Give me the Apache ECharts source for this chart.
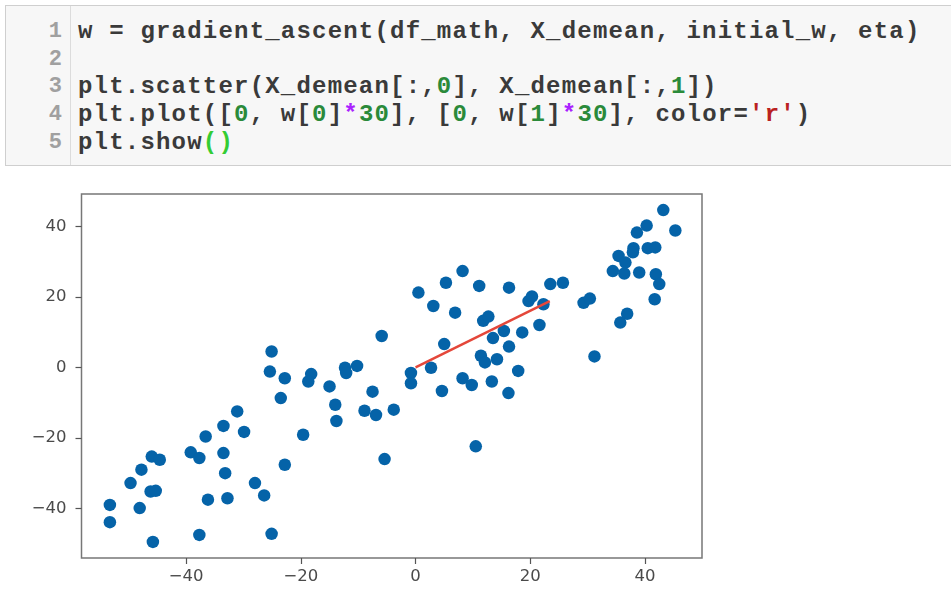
<!DOCTYPE html>
<html>
<head>
<meta charset="utf-8">
<script src="https://cdn.jsdelivr.net/npm/echarts@6/dist/echarts.min.js"></script>
<style>
  body { margin: 0; background: #fff; }
  #cell {
    position: absolute; left: 5px; top: 5px; width: 960px; height: 161px;
    background: #f7f7f7; border: 1px solid #cfcfcf; box-sizing: border-box; z-index: 2;
  }
  #gutter {
    position: absolute; left: 0; top: 0; width: 64px; height: 100%;
    border-right: 1px solid #dcdcdc;
  }
  #gutter pre, #code pre {
    margin: 0; padding-top: 12px; line-height: 27.7px;
  }
  #gutter pre { text-align: right; padding-right: 8px; font: bold 22px/27.7px "Liberation Mono", monospace; color: #a0a0a0; }
  #code { position: absolute; left: 72px; top: 0; }
  #code pre { font: bold 24px/27.7px "Liberation Mono", monospace; letter-spacing: 1.2px; color: #3a3a3a; }
  .n { color: #2a8a3a; }
  .o { color: #a2f; }
  .s { color: #ba2121; }
  .b { color: #3c3; }
  #chart { position: absolute; left: 0; top: 0; width: 951px; height: 597px; }
</style>
</head>
<body>
<div id="chart"></div>
<div id="cell">
  <div id="gutter"><pre>1
2
3
4
5</pre></div>
  <div id="code"><pre>w = gradient_ascent(df_math, X_demean, initial_w, eta)

plt.scatter(X_demean[:,<span class="n">0</span>], X_demean[:,<span class="n">1</span>])
plt.plot([<span class="n">0</span>, w[<span class="n">0</span>]<span class="o">*</span><span class="n">30</span>], [<span class="n">0</span>, w[<span class="n">1</span>]<span class="o">*</span><span class="n">30</span>], color=<span class="s">'r'</span>)
plt.show<span class="b">()</span></pre></div>
</div>
<script>
  // 散点 (X_demean[:,0], X_demean[:,1])
  const xVals = [
    -31.1, -33.5, -29.9, -36.6, -46.0, -44.6, -39.2, -37.7, -33.5, -47.8, -33.2, -49.7,
    -46.2, -45.3, -28.0, -26.4, -53.3, -48.1, -36.2, -32.8, -53.3, -45.8, -37.7, -25.1,
    -5.9, -25.1, -25.4, -22.8, -18.2, -18.7, -12.3, -10.2, -12.1, -15.0, -23.5, -7.5,
    -14.0, -8.9, -6.9, -3.8, -13.8, -19.6, -5.4, -22.8, -0.8, -0.8,
    8.2, 5.3, 0.5, 11.1, 16.3, 23.5, 25.7, 3.1, 6.9, 19.7, 20.3, 22.3,
    11.8, 12.7, 15.4, 18.6, 21.6, 13.5, 5.0, 16.3, 11.4, 12.1, 14.2, 2.7,
    17.9, 8.2, 9.8, 13.3, 4.6, 16.2, 10.5,
    29.3, 30.4, 43.2, 45.3, 38.6, 40.3, 38.0, 37.9, 40.5, 41.8, 35.4, 36.6,
    34.4, 36.4, 39.0, 41.9, 42.5, 41.7, 36.9, 35.7, 31.2
  ];
  const yVals = [
    -12.5, -16.6, -18.3, -19.6, -25.3, -26.2, -24.1, -25.7, -24.3, -29.0, -30.0, -32.8,
    -35.2, -35.0, -32.8, -36.3, -39.0, -39.9, -37.5, -37.1, -43.9, -49.5, -47.5, -47.2,
    8.9, 4.5, -1.2, -3.1, -1.9, -4.0, -0.1, 0.4, -1.6, -5.4, -8.7, -6.9,
    -10.6, -12.3, -13.5, -12.0, -15.2, -19.1, -26.0, -27.6, -1.6, -4.5,
    27.3, 24.0, 21.2, 23.1, 22.6, 23.6, 24.0, 17.4, 15.5, 18.8, 20.1, 17.9,
    13.2, 14.4, 10.3, 9.9, 12.0, 8.3, 6.6, 5.9, 3.3, 1.4, 2.3, -0.1,
    -1.0, -3.1, -5.0, -4.0, -6.7, -7.3, -22.4,
    18.3, 19.5, 44.6, 38.8, 38.2, 40.2, 33.8, 32.6, 33.8, 34.0, 31.6, 29.7,
    27.3, 26.6, 26.9, 26.4, 23.6, 19.3, 15.2, 12.7, 3.1
  ];
  // 红线 [0, w[0]*30], [0, w[1]*30]
  const lineX = [0, 23.4];
  const lineY = [0, 18.8];
  // 刻度
  const xTicks = [-40, -20, 0, 20, 40];
  const yTicks = [-40, -20, 0, 20, 40];
  const xRange = [-58.25, 49.95];
  const yRange = [-54.05, 49.15];

  const fmt = v => String(v).replace('-', '\u2212');

  const chart = echarts.init(document.getElementById('chart'));
  const axisCommon = (ticks) => ({
    type: 'value',
    splitLine: { show: false },
    axisLine: { show: false, onZero: false },
    axisTick: { show: true, customValues: ticks, length: 6, lineStyle: { color: '#555', width: 1.2 } },
    axisLabel: { customValues: ticks, formatter: fmt, fontSize: 16.5, color: '#4a4a4a', fontFamily: 'DejaVu Sans' }
  });

  const xAxis = axisCommon(xTicks);
  xAxis.min = xRange[0];
  xAxis.max = xRange[1];
  xAxis.axisLabel.margin = 10;
  const yAxis = axisCommon(yTicks);
  yAxis.min = yRange[0];
  yAxis.max = yRange[1];
  yAxis.axisLabel.margin = 15;

  chart.setOption({
    animation: false,
    grid: {
      left: 81.5, top: 194, width: 620.5, height: 364,
      show: true, borderColor: '#777', borderWidth: 1.5, backgroundColor: '#fff'
    },
    xAxis: xAxis,
    yAxis: yAxis,
    series: [
      {
        type: 'scatter',
        data: xVals.map((x, i) => [x, yVals[i]]),
        symbolSize: 12.5,
        itemStyle: { color: '#0563a8', opacity: 1 },
        z: 2
      },
      {
        type: 'line',
        data: lineX.map((x, i) => [x, lineY[i]]),
        showSymbol: false,
        lineStyle: { color: '#e4473a', width: 2.5 },
        z: 3
      }
    ]
  });
</script>
</body>
</html>
